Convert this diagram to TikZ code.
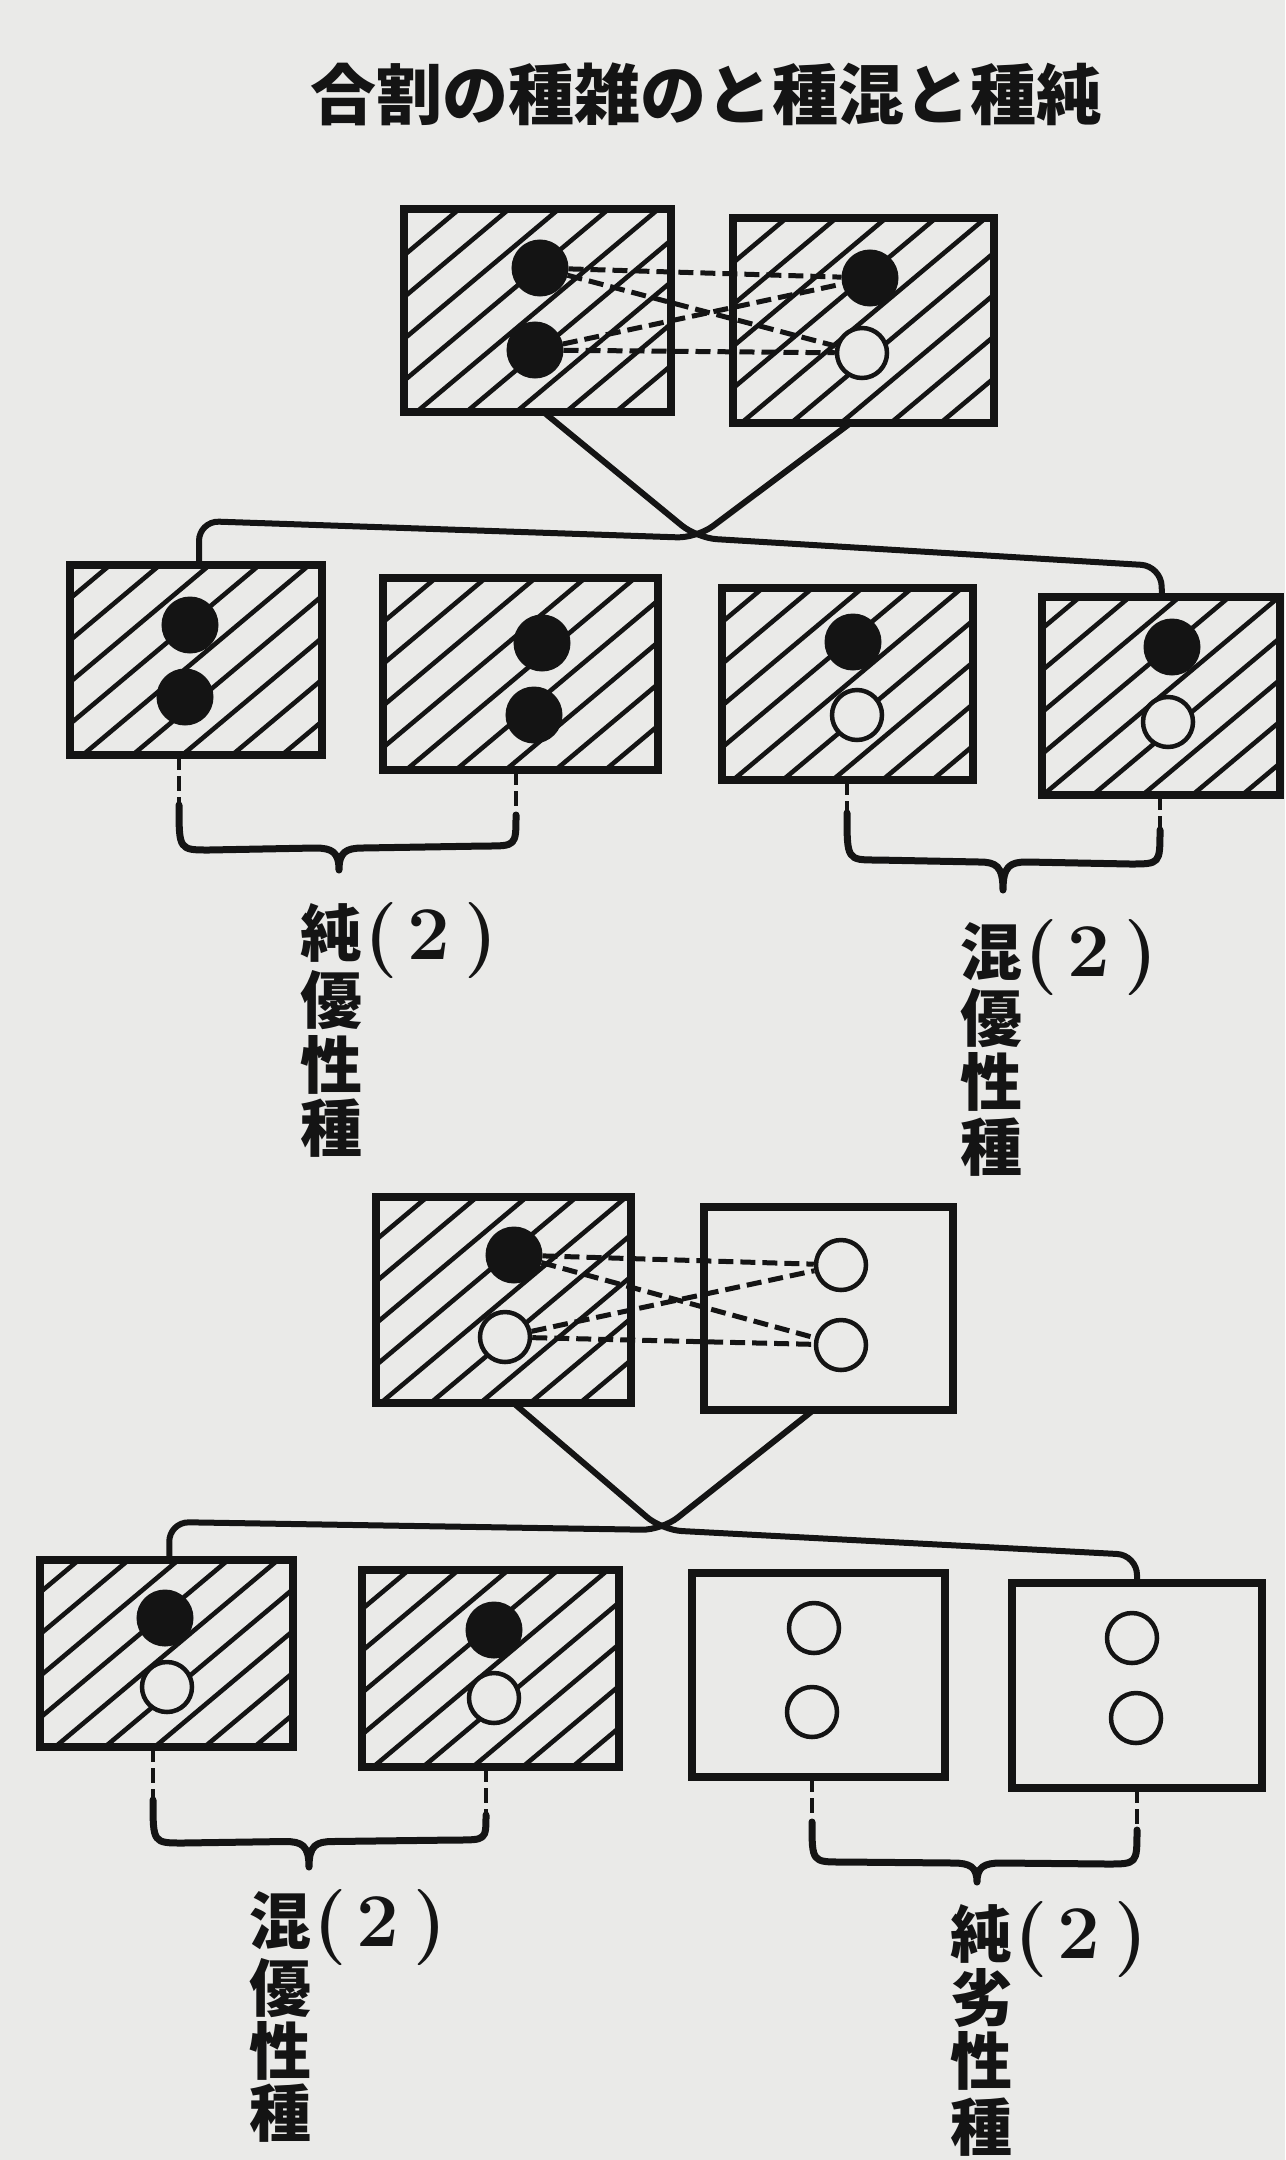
\documentclass[tikz,border=0pt]{standalone}
\usepackage{fontspec}
\newfontfamily\jfont{Noto Sans CJK JP}
\usetikzlibrary{calc}
\definecolor{paper}{RGB}{234,234,232}
\definecolor{ink}{RGB}{20,20,20}
\newcommand{\mybrace}[8]{%
  \draw[brc] (#1,#2) .. controls (#1,#3) and (#1,#3) .. (#1+30,#3)
    -- (#4-24,{(#3+#8)/2}) .. controls (#4-7,{(#3+#8)/2}) and (#4,{(#3+#8)/2+4}) .. (#4,#5)
    .. controls (#4,{(#3+#8)/2+4}) and (#4+7,{(#3+#8)/2}) .. (#4+24,{(#3+#8)/2})
    -- (#6-30,#8) .. controls (#6,#8) and (#6,#8) .. (#6,#7);}
\begin{document}
\begin{tikzpicture}[x=1pt,y=-1pt,
  box/.style={draw=ink, line width=8pt, rectangle, inner sep=0pt, outer sep=0pt},
  hbox/.style={box, path picture={
     \foreach \i in {-9,...,9}{
       \draw[ink, line width=4.6pt] ([shift={({\i*20.6-230},{\i*24.5+193})}]path picture bounding box.center) -- ++(460,-386);
     }}},
  blk/.style={circle, draw=ink, fill=ink, line width=3pt, minimum size=54pt, inner sep=0pt},
  wht/.style={circle, draw=ink, fill=paper, line width=4.5pt, minimum size=50pt, inner sep=0pt},
  dsh/.style={draw=ink, line width=5pt, dash pattern=on 15pt off 7pt},
  conn/.style={draw=ink, line width=6pt, rounded corners=20pt},
  leg/.style={draw=ink, line width=4pt, dash pattern=on 15pt off 6pt},
  brc/.style={draw=ink, line width=7pt, line cap=round, line join=round},
  jch/.style={font={\jfont\bfseries\fontsize{62}{62}\selectfont}, text=ink, inner sep=0pt},
  par/.style={font={\bfseries\fontsize{76}{76}\selectfont}, text=ink, inner sep=0pt, anchor=west},
]
\fill[paper] (0,0) rectangle (1285,2160);
\useasboundingbox (0,0) rectangle (1285,2160);

% title
\node[font={\jfont\bfseries\fontsize{66}{66}\selectfont}, text=ink, inner sep=0pt] (title) at (706,94) {合割の種雑のと種混と種純};

% ---------- group 1 ----------
\node[hbox, minimum width=267pt, minimum height=203pt] (t1) at (537.5,310.5) {};
\node[hbox, minimum width=261pt, minimum height=205pt] (t2) at (863.5,320.5) {};
\node[hbox, minimum width=252pt, minimum height=190pt] (b21) at (196,660) {};
\node[hbox, minimum width=275pt, minimum height=192pt] (b22) at (520.5,674) {};
\node[hbox, minimum width=251pt, minimum height=192pt] (b23) at (847.5,684) {};
\node[hbox, minimum width=238pt, minimum height=198pt] (b24) at (1161,696) {};

\node[blk] (t1a) at (540,268) {};
\node[blk] (t1b) at (535,350) {};
\node[blk] (t2a) at (870,278) {};
\node[wht] (t2b) at (862,353) {};
\draw[dsh] (t1a) -- (t2a);
\draw[dsh] (t1a) -- (t2b);
\draw[dsh] (t1b) -- (t2a);
\draw[dsh] (t1b) -- (t2b);

\node[blk] (b21a) at (190,625) {};
\node[blk] (b21b) at (185,697) {};
\node[blk] (b22a) at (542,643) {};
\node[blk] (b22b) at (534,715) {};
\node[blk] (b23a) at (853,642) {};
\node[wht] (b23b) at (857,715) {};
\node[blk] (b24a) at (1172,647) {};
\node[wht] (b24b) at (1168,722) {};

\coordinate (x1) at (697,538);
\draw[conn] ([xshift=6pt]t1.south) -- (x1) -- (1161,566) -- ([xshift=1pt]b24.north);
\draw[conn] ([xshift=-13pt]t2.south) -- (x1) -- (199,521) -- ([xshift=3pt]b21.north);

\draw[leg] ([xshift=-17pt]b21.south) -- (179,805);
\draw[leg] ([xshift=-4.5pt]b22.south) -- (516,815);
\mybrace{179}{805}{850}{339}{870}{516}{815}{846}
\draw[leg] ([xshift=-0.5pt]b23.south) -- (847,813);
\draw[leg] ([xshift=-1pt]b24.south) -- (1160,830);
\mybrace{847}{813}{860}{1003}{890}{1160}{830}{864}

\node[jch] (l1a) at (331,933) {純};
\node[jch] (l1b) at (331,1000) {優};
\node[jch] (l1c) at (331,1065) {性};
\node[jch] (l1d) at (331,1128) {種};
\node[par] (l1p) at (364,941) {(\hspace{10pt}2\hspace{14pt})};

\node[jch] (l2a) at (991,952) {混};
\node[jch] (l2b) at (991,1018) {優};
\node[jch] (l2c) at (991,1082) {性};
\node[jch] (l2d) at (991,1147) {種};
\node[par] (l2p) at (1024,958) {(\hspace{10pt}2\hspace{14pt})};

% ---------- group 2 ----------
\node[hbox, minimum width=255pt, minimum height=206pt] (t3) at (503.5,1300) {};
\node[box, minimum width=249pt, minimum height=203pt] (t4) at (828.5,1308.5) {};
\node[hbox, minimum width=253pt, minimum height=187pt] (b41) at (166.5,1653.5) {};
\node[hbox, minimum width=257pt, minimum height=197pt] (b42) at (490.5,1668.5) {};
\node[box, minimum width=253pt, minimum height=204pt] (b43) at (818.5,1675) {};
\node[box, minimum width=250pt, minimum height=205pt] (b44) at (1137,1685.5) {};

\node[blk] (t3a) at (514,1255) {};
\node[wht] (t3b) at (505,1337) {};
\node[wht] (t4a) at (841,1265) {};
\node[wht] (t4b) at (841,1345) {};
\draw[dsh] (t3a) -- (t4a);
\draw[dsh] (t3a) -- (t4b);
\draw[dsh] (t3b) -- (t4a);
\draw[dsh] (t3b) -- (t4b);

\node[blk] (b41a) at (165,1618) {};
\node[wht] (b41b) at (167,1687) {};
\node[blk] (b42a) at (494,1630) {};
\node[wht] (b42b) at (494,1698) {};
\node[wht] (b43a) at (814,1628) {};
\node[wht] (b43b) at (812,1712) {};
\node[wht] (b44a) at (1132,1638) {};
\node[wht] (b44b) at (1136,1718) {};

\coordinate (x2) at (662,1530);
\draw[conn] ([xshift=10pt]t3.south) -- (x2) -- (1137,1555) -- (b44.north);
\draw[conn] ([xshift=-15pt]t4.south) -- (x2) -- (169,1522) -- ([xshift=3pt]b41.north);

\draw[leg] ([xshift=-13.5pt]b41.south) -- (153,1800);
\draw[leg] ([xshift=-4.5pt]b42.south) -- (486,1815);
\mybrace{153}{1800}{1843}{309}{1867}{486}{1815}{1840}
\draw[leg] ([xshift=-6.5pt]b43.south) -- (812,1822);
\draw[leg] (b44.south) -- (1137,1830);
\mybrace{812}{1822}{1862}{977}{1882}{1137}{1830}{1864}

\node[jch] (l3a) at (280,1921) {混};
\node[jch] (l3b) at (280,1988) {優};
\node[jch] (l3c) at (280,2051) {性};
\node[jch] (l3d) at (280,2113) {種};
\node[par] (l3p) at (313,1928) {(\hspace{10pt}2\hspace{14pt})};

\node[jch] (l4a) at (981,1934) {純};
\node[jch] (l4b) at (981,1998) {劣};
\node[jch] (l4c) at (981,2061) {性};
\node[jch] (l4d) at (981,2127) {種};
\node[par] (l4p) at (1014,1940) {(\hspace{10pt}2\hspace{14pt})};
\end{tikzpicture}
\end{document}
